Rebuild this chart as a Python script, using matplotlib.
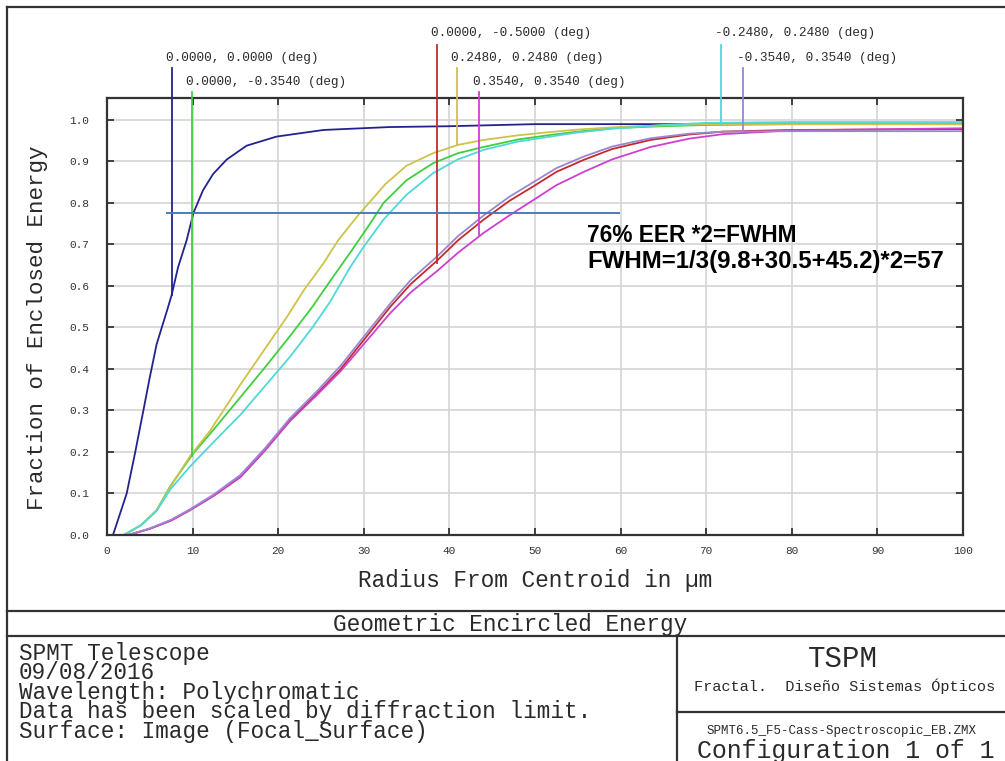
import matplotlib; matplotlib.use("Agg")
import matplotlib.pyplot as plt
from matplotlib.lines import Line2D

W_PX, H_PX = 1005, 761
MONO = "Liberation Mono"
INK  = "#2a2a2a"

FIELDS = ["0.0000, 0.0000 (deg)", "0.0000, -0.3540 (deg)", "0.0000, -0.5000 (deg)",
          "0.2480, 0.2480 (deg)", "0.3540, 0.3540 (deg)", "-0.2480, 0.2480 (deg)",
          "-0.3540, 0.3540 (deg)"]
COLORS = ["#23238f", "#3fcf3f", "#c42a2a", "#cfc24a", "#cf3fcf", "#4fd8d8", "#9b86cf"]

# radius from centroid (um) vs fraction of enclosed energy, one pair per field
R_F1  = [0.7, 1.5, 2.3, 3.3, 4.25, 5.0, 5.8, 6.4, 7.0, 7.55, 8.3, 9.3, 10.1, 11.2, 12.4, 14.0,
         16.3, 19.8, 25.3, 33.0, 40.0, 50.0, 60.0, 70.0, 100.0]
EE_F1 = [0.0, 0.05, 0.10, 0.20, 0.30, 0.38, 0.46, 0.50, 0.54, 0.578, 0.645, 0.71, 0.776, 0.83,
         0.87, 0.905, 0.938, 0.96, 0.976, 0.983, 0.985, 0.99, 0.99, 0.99, 0.99]

R_F2  = [2.0, 4.0, 5.8, 7.4, 10.1, 12.5, 15.5, 18.5, 21.4, 24.0, 26.0, 28.4, 30.4, 32.3, 35.0,
         38.1, 41.0, 44.0, 48.0, 51.8, 55.0, 58.8, 65.0, 70.0, 80.0, 100.0]
EE_F2 = [0.0, 0.024, 0.06, 0.118, 0.197, 0.255, 0.33, 0.405, 0.48, 0.55, 0.61, 0.68, 0.74,
         0.80, 0.855, 0.896, 0.92, 0.935, 0.953, 0.964, 0.972, 0.98, 0.985, 0.988, 0.99, 0.99]

R_F3  = [2.5, 5.0, 7.5, 9.7, 12.5, 15.6, 18.5, 21.4, 24.5, 27.3, 30.0, 33.1, 35.5, 38.5, 41.0,
         44.0, 47.0, 49.8, 52.5, 55.7, 59.0, 63.5, 68.0, 72.0, 80.0, 100.0]
EE_F3 = [0.0, 0.015, 0.035, 0.06, 0.095, 0.14, 0.205, 0.277, 0.34, 0.40, 0.47, 0.55, 0.605,
         0.66, 0.71, 0.76, 0.805, 0.84, 0.875, 0.904, 0.93, 0.952, 0.965, 0.972, 0.976, 0.978]

R_F4  = [2.0, 4.0, 5.8, 7.4, 9.7, 12.0, 15.5, 18.0, 21.0, 23.0, 25.3, 27.0, 29.2, 32.5, 35.0,
         38.1, 41.0, 44.0, 48.0, 51.8, 55.0, 59.6, 65.0, 70.0, 80.0, 100.0]
EE_F4 = [0.0, 0.024, 0.06, 0.116, 0.19, 0.25, 0.36, 0.435, 0.525, 0.59, 0.655, 0.71, 0.767,
         0.845, 0.89, 0.92, 0.94, 0.952, 0.963, 0.971, 0.977, 0.983, 0.987, 0.99, 0.99, 0.99]

R_F5  = R_F3
EE_F5 = [0.0, 0.015, 0.035, 0.06, 0.095, 0.14, 0.205, 0.275, 0.337, 0.395, 0.46, 0.535, 0.585,
         0.635, 0.68, 0.728, 0.77, 0.807, 0.843, 0.875, 0.905, 0.935, 0.955, 0.966, 0.975, 0.98]

R_F6  = [1.9, 4.0, 5.8, 7.4, 9.7, 12.5, 15.6, 18.5, 21.4, 24.0, 26.0, 28.4, 30.0, 32.3, 35.0,
         38.1, 41.0, 44.0, 48.0, 51.8, 55.0, 59.6, 65.0, 70.0, 80.0, 100.0]
EE_F6 = [0.0, 0.024, 0.058, 0.11, 0.165, 0.225, 0.29, 0.36, 0.43, 0.50, 0.56, 0.645, 0.695,
         0.76, 0.82, 0.872, 0.905, 0.928, 0.948, 0.96, 0.97, 0.98, 0.988, 0.993, 0.995, 0.995]

R_F7  = R_F3
EE_F7 = [0.0, 0.016, 0.037, 0.062, 0.098, 0.145, 0.21, 0.282, 0.346, 0.408, 0.478, 0.558, 0.615,
         0.67, 0.72, 0.77, 0.815, 0.85, 0.884, 0.912, 0.936, 0.956, 0.967, 0.972, 0.973, 0.973]

CURVES = [(R_F1, EE_F1), (R_F2, EE_F2), (R_F3, EE_F3), (R_F4, EE_F4),
          (R_F5, EE_F5), (R_F6, EE_F6), (R_F7, EE_F7)]

# field label markers: radius, where the marker meets the curve, label row
MARK_X   = [7.57, 9.94, 38.5, 40.9, 43.4, 71.7, 74.3]
MARK_Y   = [0.578, 0.19, 0.655, 0.94, 0.723, 0.99, 0.975]
MARK_ROW = [1, 2, 0, 1, 2, 0, 1]
ROW_TEXT_Y = [1.21, 1.149, 1.092]
ROW_LINE_Y = [1.181, 1.125, 1.067]

EER_LEVEL = 0.776
EER_SPAN  = [7.0, 59.8]
NOTE_LINES = ["76% EER *2=FWHM", "FWHM=1/3(9.8+30.5+45.2)*2=57"]

INFO_LINES = ["SPMT Telescope", "09/08/2016", "Wavelength: Polychromatic",
              "Data has been scaled by diffraction limit.", "Surface: Image (Focal_Surface)"]


def fx(px):
    return px / W_PX


def fy(py):
    return 1 - py / H_PX


def frame_line(fig, x0, y0, x1, y1):
    fig.add_artist(Line2D([fx(x0), fx(x1)], [fy(y0), fy(y1)], transform=fig.transFigure,
                          color="#333333", lw=1.6))


def draw():
    fig = plt.figure(figsize=(W_PX / 100, H_PX / 100), dpi=100)
    ax = fig.add_axes([fx(107), fy(535), fx(963) - fx(107), fy(98) - fy(535)])

    for (r, ee), c in zip(CURVES, COLORS):
        ax.plot(r, ee, color=c, lw=1.3)

    for i, label in enumerate(FIELDS):
        row = MARK_ROW[i]
        ax.plot([MARK_X[i], MARK_X[i]], [MARK_Y[i], ROW_LINE_Y[row]], color=COLORS[i],
                lw=1.3, clip_on=False, zorder=4)
        ax.text(MARK_X[i] - 0.7, ROW_TEXT_Y[row], label, family=MONO, fontsize=9.2,
                color=INK, ha="left", va="center")

    ax.plot(EER_SPAN, [EER_LEVEL, EER_LEVEL], color="#4a7cc0", lw=1.4, zorder=5)
    for k, line in enumerate(NOTE_LINES):
        ax.text(56.1, 0.7205 - k * 0.0625, line, family="Liberation Sans", weight="bold",
                fontsize=16.3 + k * 1.0, color="black", ha="left", va="center")

    ax.set_xlim(0, 100)
    ax.set_ylim(0, 1.053)
    ax.set_xticks(range(0, 101, 10))
    yt = [i / 10 for i in range(11)]
    ax.set_yticks(yt)
    ax.set_yticklabels([f"{v:.1f}" for v in yt])
    ax.grid(True, color="#d4d4d4", lw=1.2)
    ax.set_axisbelow(True)
    ax.tick_params(direction="in", length=5, width=1.3, top=True, right=True,
                   labelsize=8, labelcolor="#333333", colors="#333333")
    ax.tick_params(axis="x", pad=8)
    ax.tick_params(axis="y", pad=13)
    for lab in ax.get_xticklabels() + ax.get_yticklabels():
        lab.set_family(MONO)
    for s in ax.spines.values():
        s.set_color("#333333")
        s.set_linewidth(1.6)

    ax.set_xlabel("Radius From Centroid in µm", family=MONO, fontsize=16.4, color=INK, va="center")
    ax.xaxis.set_label_coords(0.5, -45 / 437)
    ax.set_ylabel("Fraction of Enclosed Energy", family=MONO, fontsize=16.2, color=INK, va="center")
    ax.yaxis.set_label_coords(-69 / 856, 207.5 / 437)

    # ZEMAX style page frame
    frame_line(fig, 7, 7, 1005, 7)
    frame_line(fig, 7, 7, 7, 761)
    frame_line(fig, 7, 611, 1005, 611)
    frame_line(fig, 7, 636, 1005, 636)
    frame_line(fig, 677, 636, 677, 761)
    frame_line(fig, 677, 712, 1005, 712)

    fig.text(fx(510), fy(625), "Geometric Encircled Energy", family=MONO, fontsize=16.4,
             color=INK, ha="center", va="center")
    fig.text(fx(19), fy(642), "\n".join(INFO_LINES), family=MONO, fontsize=16.3, color=INK,
             ha="left", va="top", linespacing=0.8)
    fig.text(fx(843), fy(659), "TSPM", family=MONO, fontsize=21, color=INK, ha="center", va="center")
    fig.text(fx(845), fy(686), "Fractal.  Diseño Sistemas Ópticos", family=MONO, fontsize=11,
             color=INK, ha="center", va="center")
    fig.text(fx(842), fy(731), "SPMT6.5_F5-Cass-Spectroscopic_EB.ZMX", family=MONO, fontsize=9,
             color=INK, ha="center", va="center")
    fig.text(fx(846), fy(751), "Configuration 1 of 1", family=MONO, fontsize=17.9,
             color=INK, ha="center", va="center")

    fig.savefig("out.png", dpi=100)
    plt.close(fig)


if __name__ == "__main__":
    draw()
